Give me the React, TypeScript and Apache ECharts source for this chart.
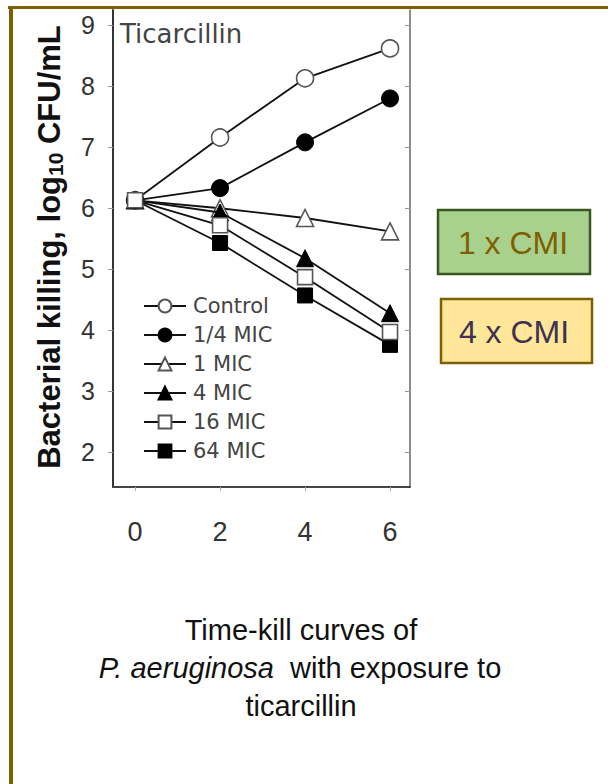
import React, { useEffect, useRef } from "react";
import * as echarts from "echarts";

const times = [0, 2, 4, 6];
const control = [6.13, 7.16, 8.13, 8.62];
const quarterMic = [6.13, 6.33, 7.08, 7.8];
const oneMic = [6.13, 6.0, 5.84, 5.62];
const fourMic = [6.13, 5.93, 5.18, 4.28];
const sixteenMic = [6.13, 5.72, 4.87, 3.97];
const sixtyFourMic = [6.13, 5.43, 4.57, 3.76];
const yTickValues = [2, 3, 4, 5, 6, 7, 8, 9];
const xTickValues = [0, 2, 4, 6];
const legendNames = ["Control", "1/4 MIC", "1 MIC", "4 MIC", "16 MIC", "64 MIC"];

const GOLD = "#7f6000";
const SANS = "Liberation Sans";

export default function App() {
  const ref = useRef<HTMLDivElement>(null);
  useEffect(() => {
    const chart = echarts.init(ref.current!, null, { renderer: "svg" });
    const mk = (
      name: string,
      vals: number[],
      symbol: string,
      filled: boolean,
      size: number,
      z: number
    ) => ({
      type: "line",
      name,
      z,
      data: times.map((t, i) => [t, vals[i]]),
      symbol,
      symbolSize: size,
      showAllSymbol: true,
      lineStyle: { color: "#111", width: 1.8 },
      itemStyle: filled
        ? { color: "#000", borderColor: "#000", borderWidth: 1 }
        : { color: "#fff", borderColor: "#555", borderWidth: 1.6 },
      emphasis: { disabled: true },
    });
    chart.setOption({
      animation: false,
      backgroundColor: "#fff",
      grid: { left: 113, right: 198, top: 10, bottom: 297 },
      xAxis: {
        type: "value",
        min: -0.52,
        max: 6.47,
        axisLine: { show: true, onZero: false, lineStyle: { color: "#444", width: 2 } },
        axisTick: { show: true, length: 4, customValues: xTickValues, lineStyle: { color: "#aaa" } },
        axisLabel: {
          customValues: xTickValues,
          margin: 31,
          fontSize: 27,
          color: "#333",
          fontFamily: SANS,
        },
        splitLine: { show: false },
      },
      yAxis: [
        {
          type: "value",
          min: 1.43,
          max: 9.25,
          axisLine: { show: true, onZero: false, lineStyle: { color: "#333", width: 2 } },
          axisTick: { show: true, length: 5, customValues: yTickValues, lineStyle: { color: "#999" } },
          axisLabel: {
            customValues: yTickValues,
            margin: 18,
            fontSize: 25,
            color: "#333",
            fontFamily: SANS,
          },
          splitLine: { show: false },
        },
        {
          type: "value",
          position: "right",
          min: 1.43,
          max: 9.25,
          axisLine: { show: true, onZero: false, lineStyle: { color: "#666", width: 1.5 } },
          axisTick: { show: true, inside: true, length: 5, customValues: yTickValues, lineStyle: { color: "#999" } },
          axisLabel: { show: false },
          splitLine: { show: false },
        },
      ],
      legend: {
        orient: "vertical",
        left: 138,
        top: 290,
        itemWidth: 42,
        itemHeight: 16,
        itemGap: 7,
        data: legendNames,
        selectedMode: false,
        textStyle: {
          fontSize: 21,
          lineHeight: 22,
          color: "#444",
          fontFamily: "DejaVu Sans",
          padding: [0, 0, 0, 2],
        },
      },
      series: [
        mk("Control", control, "circle", false, 17, 2),
        mk("1/4 MIC", quarterMic, "circle", true, 17, 3),
        mk("1 MIC", oneMic, "triangle", false, 17, 4),
        mk("4 MIC", fourMic, "triangle", true, 17, 5),
        mk("64 MIC", sixtyFourMic, "rect", true, 15, 6),
        mk("16 MIC", sixteenMic, "rect", false, 15, 7),
      ],
      graphic: [
        { type: "rect", shape: { x: 8, y: 6, width: 600, height: 3 }, style: { fill: GOLD }, z: 100 },
        { type: "rect", shape: { x: 9, y: 6, width: 4, height: 778 }, style: { fill: GOLD }, z: 100 },
        {
          type: "text",
          x: 49,
          y: 247,
          rotation: Math.PI / 2,
          style: {
            text: "Bacterial killing, log{sub|10} CFU/mL",
            fontSize: 31,
            fontWeight: "bold",
            fontFamily: SANS,
            fill: "#111",
            align: "center",
            verticalAlign: "middle",
            rich: {
              sub: { fontSize: 21, fontWeight: "bold", fontFamily: SANS, fill: "#111", verticalAlign: "bottom", padding: [12, 0, 0, 0] },
            },
          },
        },
        {
          type: "text",
          x: 120,
          y: 21,
          style: {
            text: "Ticarcillin",
            fontSize: 26,
            fontFamily: "DejaVu Sans",
            fill: "#444",
            align: "left",
            verticalAlign: "top",
          },
        },
        {
          type: "rect",
          shape: { x: 438, y: 210, width: 152, height: 64 },
          style: { fill: "#a9d18e", stroke: "#385723", lineWidth: 2.5 },
        },
        {
          type: "text",
          x: 513,
          y: 243,
          style: {
            text: "1 x CMI",
            fontSize: 32,
            fontFamily: SANS,
            fill: GOLD,
            align: "center",
            verticalAlign: "middle",
          },
        },
        {
          type: "rect",
          shape: { x: 441, y: 299, width: 151, height: 64 },
          style: { fill: "#ffe699", stroke: GOLD, lineWidth: 2.5 },
        },
        {
          type: "text",
          x: 514,
          y: 332,
          style: {
            text: "4 x CMI",
            fontSize: 32,
            fontFamily: SANS,
            fill: "#403152",
            align: "center",
            verticalAlign: "middle",
          },
        },
        {
          type: "text",
          x: 301,
          y: 630,
          style: {
            text: "Time-kill curves of",
            fontSize: 29,
            fontFamily: SANS,
            fill: "#111",
            align: "center",
            verticalAlign: "middle",
          },
        },
        {
          type: "text",
          x: 300,
          y: 668,
          style: {
            text: "{i|P. aeruginosa}  with exposure to",
            fontSize: 29,
            fontFamily: SANS,
            fill: "#111",
            align: "center",
            verticalAlign: "middle",
            rich: {
              i: { fontSize: 29, fontStyle: "italic", fontFamily: SANS, fill: "#111" },
            },
          },
        },
        {
          type: "text",
          x: 301,
          y: 706,
          style: {
            text: "ticarcillin",
            fontSize: 29,
            fontFamily: SANS,
            fill: "#111",
            align: "center",
            verticalAlign: "middle",
          },
        },
      ],
    });
    return () => chart.dispose();
  }, []);
  return (
    <div
      ref={ref}
      style={{ position: "fixed", left: 0, top: 0, width: 608, height: 784, background: "#fff" }}
    />
  );
}
